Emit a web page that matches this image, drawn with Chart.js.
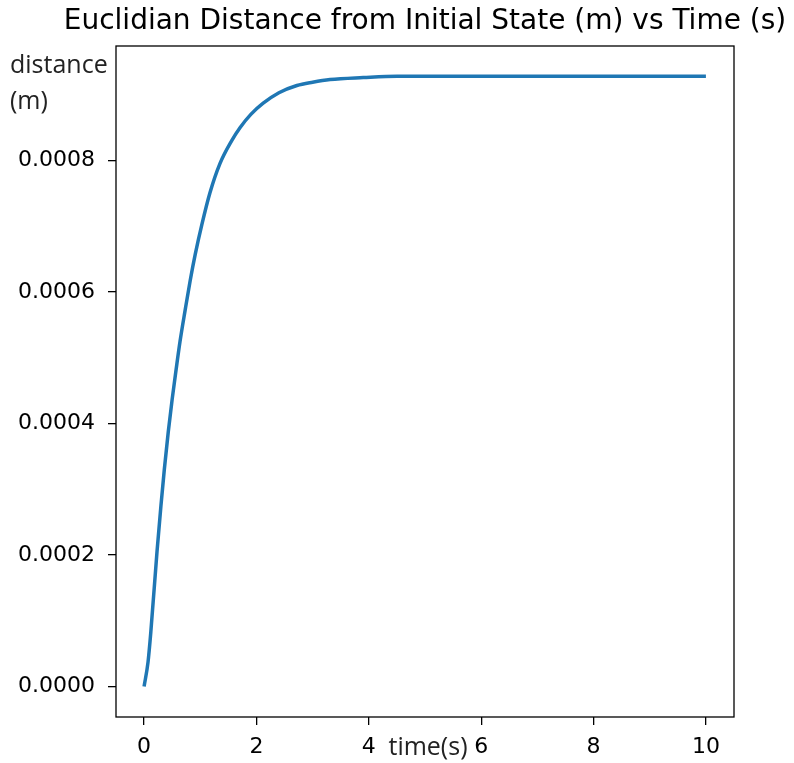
<!DOCTYPE html>
<html>
<head>
<meta charset="utf-8">
<script src="https://cdn.jsdelivr.net/npm/chart.js@4.4.0/dist/chart.umd.min.js"></script>
<style>
  html, body { margin: 0; padding: 0; background: #fff; }
  #wrap { width: 794px; height: 763px; }
</style>
</head>
<body>
<div id="wrap"><canvas id="myChart" width="794" height="763"></canvas></div>
<script>
// values
var timeS = [0, 0.07, 0.12, 0.23, 0.3, 0.36, 0.43, 0.5, 0.57, 0.64, 0.73, 0.82, 0.91, 1.03, 1.17, 1.35, 1.56, 1.71, 1.9, 2.12, 2.4, 2.72, 3.0, 3.31, 3.9, 4.5, 5, 6, 7, 8, 9, 10];
var distanceM = [0, 0.000037, 0.000083, 0.000205, 0.000275, 0.00033, 0.000387, 0.000437, 0.000482, 0.000525, 0.000572, 0.000617, 0.000657, 0.000703, 0.00075, 0.000795, 0.00083, 0.00085, 0.00087, 0.000887, 0.000903, 0.000914, 0.000919, 0.000923, 0.000926, 0.000928, 0.000928, 0.000928, 0.000928, 0.000928, 0.000928, 0.000928];
var xTicks = [0, 2, 4, 6, 8, 10];
var yTicks = [0, 0.0002, 0.0004, 0.0006, 0.0008];
var chartTitle = 'Euclidian Distance from Initial State (m) vs Time (s)';

var tickFont = { family: 'DejaVu Sans', size: 22 };

// box round the plot, title and axis labels, like matplotlib
var framePlugin = {
    id: 'frame',
    afterDraw: function(chart) {
        var ctx = chart.ctx;
        var a = chart.chartArea;
        ctx.save();
        ctx.strokeStyle = '#000';
        ctx.lineWidth = 1.3;
        ctx.strokeRect(a.left, a.top, a.right - a.left, a.bottom - a.top);

        ctx.fillStyle = '#000';
        ctx.font = '28px "DejaVu Sans"';
        ctx.textAlign = 'center';
        ctx.textBaseline = 'middle';
        ctx.fillText(chartTitle, (a.left + a.right) / 2, 22);

        ctx.fillStyle = '#222';
        ctx.font = '25px "Open Sans"';
        ctx.textAlign = 'left';
        ctx.fillText('distance', 10, 66);
        ctx.fillText('(m)', 10, 102);
        ctx.textAlign = 'center';
        ctx.fillText('time(s)', 428, 748);
        ctx.restore();
    }
};

var ctx = document.getElementById('myChart').getContext('2d');
var myChart = new Chart(ctx, {
    type: 'line',
    data: {
        datasets: [{
            data: timeS.map(function(t, i) { return { x: t, y: distanceM[i] }; }),
            borderColor: '#1f77b4',
            borderWidth: 3.5,
            pointRadius: 0,
            fill: false,
            cubicInterpolationMode: 'monotone'
        }]
    },
    options: {
        responsive: false,
        animation: false,
        layout: { padding: { top: 46, right: 60, left: 0, bottom: 0 } },
        plugins: {
            legend: { display: false },
            tooltip: { enabled: false },
            title: { display: false }
        },
        scales: {
            x: {
                type: 'linear',
                min: -0.5,
                max: 10.5,
                afterBuildTicks: function(axis) { axis.ticks = xTicks.map(function(v) { return { value: v }; }); },
                afterFit: function(axis) { axis.height = 46; },
                grid: { drawOnChartArea: false, drawTicks: true, tickLength: 8, color: '#000', lineWidth: 1.3 },
                border: { display: false },
                ticks: { color: '#000', font: tickFont, padding: 9, maxRotation: 0 }
            },
            y: {
                type: 'linear',
                min: -0.0000464,
                max: 0.000974,
                afterBuildTicks: function(axis) { axis.ticks = yTicks.map(function(v) { return { value: v }; }); },
                afterFit: function(axis) { axis.width = 116; },
                grid: { drawOnChartArea: false, drawTicks: true, tickLength: 8, color: '#000', lineWidth: 1.3 },
                border: { display: false },
                ticks: {
                    color: '#000', font: tickFont, padding: 13,
                    callback: function(v) { return v.toFixed(4); }
                }
            }
        }
    },
    plugins: [framePlugin]
});
</script>
</body>
</html>
